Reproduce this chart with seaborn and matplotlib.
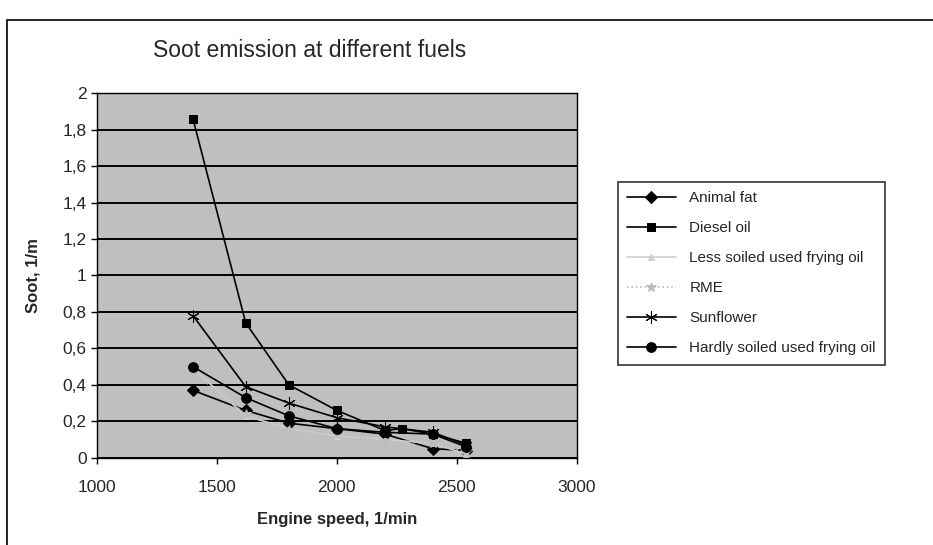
import matplotlib
matplotlib.use("Agg")
import matplotlib.pyplot as plt
import seaborn as sns
import pandas as pd
from matplotlib.patches import Rectangle

# Values
speed = [1400, 1620, 1800, 2000, 2200, 2400, 2540]
speed_diesel = [1400, 1620, 1800, 2000, 2200, 2270, 2400, 2540]

animal_fat = [0.37, 0.26, 0.19, 0.16, 0.13, 0.05, 0.04]
diesel_oil = [1.86, 0.74, 0.40, 0.26, 0.15, 0.16, 0.13, 0.08]
less_soiled = [0.49, 0.23, 0.16, 0.12, 0.10, 0.08, 0.02]
rme = [0.47, 0.24, 0.15, 0.13, 0.09, 0.08, 0.03]
sunflower = [0.78, 0.39, 0.30, 0.22, 0.17, 0.14, 0.07]
hardly_soiled = [0.50, 0.33, 0.23, 0.16, 0.14, 0.13, 0.06]

y_ticks = [0, 0.2, 0.4, 0.6, 0.8, 1, 1.2, 1.4, 1.6, 1.8, 2]
y_labels = ["0", "0,2", "0,4", "0,6", "0,8", "1", "1,2", "1,4", "1,6", "1,8", "2"]
x_ticks = [1000, 1500, 2000, 2500, 3000]

series = [
    ("Animal fat", speed, animal_fat, "black", "D", "-", 6),
    ("Diesel oil", speed_diesel, diesel_oil, "black", "s", "-", 6),
    ("Less soiled used frying oil", speed, less_soiled, "#cfcfcf", "^", "-", 5),
    ("RME", speed, rme, "#bdbdbd", "*", ":", 7),
    ("Sunflower", speed, sunflower, "black", (6, 2, 0), "-", 9),
    ("Hardly soiled used frying oil", speed, hardly_soiled, "black", "o", "-", 7),
]

sns.set_style("white")
plt.rcParams["font.family"] = ["Liberation Sans", "DejaVu Sans"]

fig = plt.figure(figsize=(9.33, 5.45), dpi=100)
ax = fig.add_axes([0.104, 0.160, 0.514, 0.669])

# outer chart border
fig.patches.append(Rectangle((7 / 933, -0.05), 1.1, (545 - 20) / 545 + 0.05,
                             transform=fig.transFigure, fill=False,
                             edgecolor="black", linewidth=1.2))

ax.set_facecolor("#bfbfbf")
for name, xs, ys, col, mk, ls, ms in series:
    df = pd.DataFrame({"speed": xs, "soot": ys})
    sns.lineplot(data=df, x="speed", y="soot", ax=ax, color=col, marker=mk,
                 linestyle=ls, markersize=ms, linewidth=1.2,
                 markeredgecolor=col, label=name)

ax.set_xlim(1000, 3000)
ax.set_ylim(0, 2)
ax.set_xticks(x_ticks)
ax.set_yticks(y_ticks)
ax.set_yticklabels(y_labels)
ax.tick_params(axis="both", direction="out", length=4, width=1, labelsize=12.5,
               color="black", left=True, bottom=True)
ax.tick_params(axis="x", pad=12)
ax.yaxis.grid(True, color="black", linewidth=1.4)
ax.xaxis.grid(False)
ax.set_axisbelow(True)
for s in ax.spines.values():
    s.set_color("black")
    s.set_linewidth(1.0)

ax.set_xlabel("Engine speed, 1/min", fontsize=12, fontweight="bold", labelpad=12)
ax.set_ylabel("Soot, 1/m", fontsize=12, fontweight="bold", labelpad=16)
fig.text(0.332, 0.908, "Soot emission at different fuels", fontsize=16.5,
         ha="center", va="center")

leg = ax.legend(loc="upper left", bbox_to_anchor=(0.662, 0.666),
                bbox_transform=fig.transFigure, borderaxespad=0,
                fontsize=11, frameon=True, fancybox=False,
                edgecolor="black", handlelength=3.2, handletextpad=0.9,
                labelspacing=1.05, borderpad=0.6)
leg.get_frame().set_linewidth(1.2)

plt.savefig("out.png", dpi=100)
